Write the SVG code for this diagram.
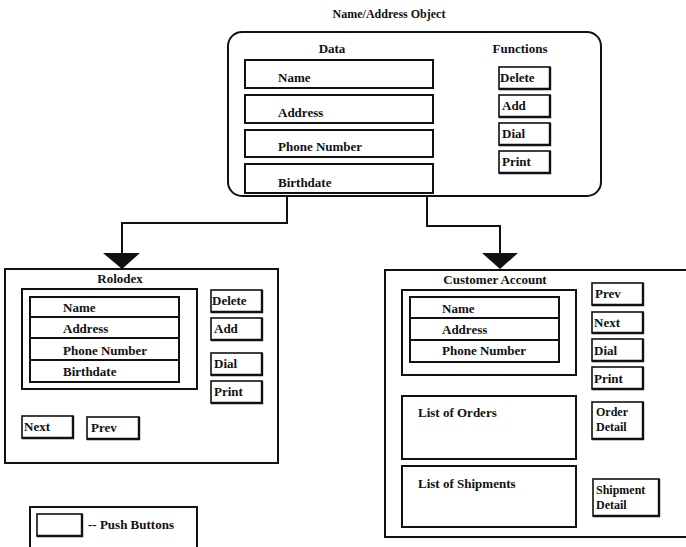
<svg xmlns="http://www.w3.org/2000/svg" width="686" height="547" viewBox="0 0 686 547">
<style>
text{font-family:"Liberation Serif","Times New Roman",serif;font-size:13px;font-weight:bold;fill:#111}
.t{font-size:12px}
.s{font-size:12px}
.box{fill:none;stroke:#111;stroke-width:2}
.btn{fill:#fff;stroke:#111;stroke-width:1.6}
.sh{fill:none;stroke:#111;stroke-width:2.4}
.ln{fill:none;stroke:#111;stroke-width:2}
</style>
<rect width="686" height="547" fill="#fff"/>
<text class="t" x="389" y="18" text-anchor="middle">Name/Address Object</text>

<g id="name-address-object">
<rect class="box" x="228" y="32" width="373" height="164" rx="14"/>
<text x="332" y="53" text-anchor="middle">Data</text>
<text x="520" y="53" text-anchor="middle">Functions</text>
<rect class="box" x="245" y="60" width="188" height="28"/>
<text x="278" y="82">Name</text>
<rect class="box" x="245" y="95" width="188" height="28"/>
<text x="278" y="117">Address</text>
<rect class="box" x="245" y="130" width="188" height="27"/>
<text x="278" y="151">Phone Number</text>
<rect class="box" x="245" y="164" width="188" height="29"/>
<text x="278" y="187">Birthdate</text>
<g id="btn-delete"><rect class="btn" x="499" y="67" width="51" height="22"/><path class="sh" d="M550,67 V89 H499"/><text x="500" y="82">Delete</text></g>
<g id="btn-add"><rect class="btn" x="499" y="95" width="51" height="22"/><path class="sh" d="M550,95 V117 H499"/><text x="502" y="110">Add</text></g>
<g id="btn-dial"><rect class="btn" x="499" y="123" width="51" height="22"/><path class="sh" d="M550,123 V145 H499"/><text x="502" y="138">Dial</text></g>
<g id="btn-print"><rect class="btn" x="499" y="151" width="51" height="22"/><path class="sh" d="M550,151 V173 H499"/><text x="502" y="166">Print</text></g>
</g>

<g id="connectors">
<path class="ln" d="M287,196 V223 H122 V256"/>
<polygon points="103,253 140,253 122,269" fill="#111"/>
<path class="ln" d="M427,196 V226 H500 V256"/>
<polygon points="482,253 518,253 500,269" fill="#111"/>
</g>

<g id="rolodex">
<rect class="box" x="5" y="269" width="273" height="194"/>
<text x="120" y="283" text-anchor="middle">Rolodex</text>
<rect class="box" x="22" y="289" width="175" height="100"/>
<rect class="box" x="30" y="297" width="149" height="85"/>
<path class="ln" d="M30,317 H179 M30,338 H179 M30,360 H179"/>
<text x="63" y="312">Name</text>
<text x="63" y="333">Address</text>
<text x="63" y="355">Phone Number</text>
<text x="63" y="376">Birthdate</text>
<g id="r-delete"><rect class="btn" x="211" y="290" width="51" height="22"/><path class="sh" d="M262,290 V312 H211"/><text x="212" y="305">Delete</text></g>
<g id="r-add"><rect class="btn" x="211" y="318" width="51" height="22"/><path class="sh" d="M262,318 V340 H211"/><text x="214" y="333">Add</text></g>
<g id="r-dial"><rect class="btn" x="211" y="353" width="51" height="22"/><path class="sh" d="M262,353 V375 H211"/><text x="214" y="368">Dial</text></g>
<g id="r-print"><rect class="btn" x="211" y="381" width="51" height="22"/><path class="sh" d="M262,381 V403 H211"/><text x="214" y="396">Print</text></g>
<g id="r-next"><rect class="btn" x="22" y="416" width="51" height="22"/><path class="sh" d="M73,416 V438 H22"/><text x="24" y="431">Next</text></g>
<g id="r-prev"><rect class="btn" x="87" y="417" width="52" height="22"/><path class="sh" d="M139,417 V439 H87"/><text x="91" y="432">Prev</text></g>
</g>

<g id="customer-account">
<path class="box" d="M690,270 H385 V537 H690"/>
<text x="495" y="284" text-anchor="middle">Customer Account</text>
<rect class="box" x="402" y="290" width="174" height="85"/>
<rect class="box" x="410" y="297" width="149" height="65"/>
<path class="ln" d="M410,318 H559 M410,340 H559"/>
<text x="442" y="313">Name</text>
<text x="442" y="334">Address</text>
<text x="442" y="355">Phone Number</text>
<rect class="box" x="402" y="396" width="174" height="63"/>
<text x="418" y="417">List of Orders</text>
<rect class="box" x="402" y="466" width="174" height="61"/>
<text x="418" y="488">List of Shipments</text>
<g id="c-prev"><rect class="btn" x="592" y="283" width="51" height="22"/><path class="sh" d="M643,283 V305 H592"/><text x="595" y="298">Prev</text></g>
<g id="c-next"><rect class="btn" x="592" y="312" width="51" height="21"/><path class="sh" d="M643,312 V333 H592"/><text x="594" y="327">Next</text></g>
<g id="c-dial"><rect class="btn" x="592" y="339" width="51" height="22"/><path class="sh" d="M643,339 V361 H592"/><text x="594" y="355">Dial</text></g>
<g id="c-print"><rect class="btn" x="592" y="367" width="51" height="22"/><path class="sh" d="M643,367 V389 H592"/><text x="594" y="383">Print</text></g>
<g id="c-order-detail"><rect class="btn" x="592" y="402" width="51" height="37"/><path class="sh" d="M643,402 V439 H592"/><text class="s" x="596" y="416">Order</text><text class="s" x="596" y="431">Detail</text></g>
<g id="c-shipment-detail"><rect class="btn" x="593" y="479" width="66" height="37"/><path class="sh" d="M659,479 V516 H593"/><text class="s" x="596" y="494">Shipment</text><text class="s" x="596" y="509">Detail</text></g>
</g>

<g id="legend">
<path class="box" d="M30,550 V507 H197 V550"/>
<g id="legend-button"><rect class="btn" x="37" y="514" width="45" height="22"/><path class="sh" d="M82,514 V536 H37"/></g>
<text x="88" y="529">-- Push Buttons</text>
</g>
</svg>
